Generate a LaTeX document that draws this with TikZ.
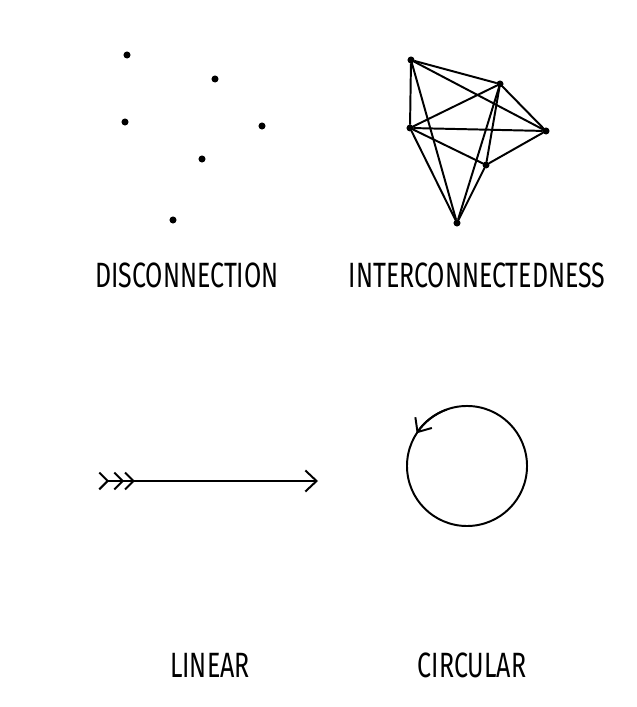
\documentclass[tikz,border=0pt]{standalone}
\usepackage{fontspec}
\setmainfont{Fira Sans}
\usetikzlibrary{arrows.meta}
\usetikzlibrary{positioning,calc}
\newcommand{\handtext}[1]{\scalebox{0.71}[1]{#1}}

\begin{document}
\begin{tikzpicture}[x=0.025cm,y=0.025cm]

		\tikzset{line/.style={draw,line width=1.4pt,line cap=round}}
		\tikzset{dot/.style={shape=circle,fill=black,inner sep=0pt,minimum size=5pt}}
		\tikzset{vertex/.style={shape=circle,fill=black,inner sep=0pt,minimum size=5pt}}
		\tikzset{caption/.style={font=\fontsize{25}{28}\selectfont,inner sep=0pt}}
		\tikzset{fletch/.tip={Straight Barb[reversed,length=6pt,width=12pt,line width=1.4pt]}}

		\useasboundingbox (0,0) rectangle (636,707);

		% scattered dots
		\node[dot] (d1) at (127,652) {};
		\node[dot] (d2) at (215,628) {};
		\node[dot] (d3) at (125,585) {};
		\node[dot] (d4) at (262,581) {};
		\node[dot] (d5) at (202,548) {};
		\node[dot] (d6) at (173,487) {};

		% network
		\node[vertex] (va) at (411,647) {};
		\node[vertex] (vb) at (500,623) {};
		\node[vertex] (vc) at (410,579) {};
		\node[vertex] (vd) at (546,576) {};
		\node[vertex] (ve) at (486,542) {};
		\node[vertex] (vf) at (457,484) {};

		\foreach \s/\t in {va/vb,va/vc,va/vd,va/vf,vb/vc,vb/vd,vb/ve,vb/vf,vc/vd,vc/ve,vc/vf,vd/ve,ve/vf}
			\path[line] (\s) to (\t);

		\node[caption] (disc) at (187,432) {\handtext{DISCONNECTION}};
		\node[caption] (inter) at (477,432) {\handtext{INTERCONNECTEDNESS}};

		% linear arrow
		\coordinate (tail) at (94,226);
		\coordinate (head) at (318,226);
		\path[line,{fletch[sep=3pt]fletch[sep=3pt]fletch}-{Straight Barb[length=8pt,width=15pt,line width=1.4pt]}] (tail) to (head);

		% circular arrow
		\node[draw,line width=1.4pt,shape=circle,inner sep=0pt,minimum size=3cm] (ring) at (467,241) {};
		\path[line,-{Straight Barb[length=8pt,width=14pt,line width=1.4pt]}] ($(ring.center)+(110:1.5cm)$) arc[start angle=110,end angle=147,radius=1.5cm];

		\node[caption] (lin) at (210,42) {\handtext{LINEAR}};
		\node[caption] (circ) at (472,42) {\handtext{CIRCULAR}};

\end{tikzpicture}
\end{document}
